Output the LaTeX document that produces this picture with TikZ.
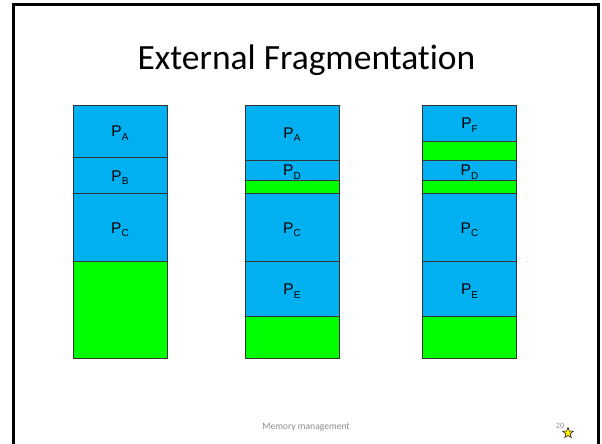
\documentclass[tikz,border=0pt]{standalone}
\usepackage{fontspec}
\setmainfont{Liberation Sans}
\newfontfamily\slidefont[Ligatures=NoCommon]{Carlito}
\usetikzlibrary{shapes.geometric}

\definecolor{procblue}{HTML}{00B0F0}
\definecolor{holegreen}{HTML}{00FF00}
\definecolor{footgray}{HTML}{8C8C8C}

% process label with a lowered small letter
\newcommand{\proc}[1]{P\raisebox{-3.5pt}{\fontsize{10}{11}\selectfont #1}}

\tikzset{
  seg/.style={draw=black!80, line width=0.6pt, fill=procblue, minimum width=94pt,
    inner sep=0pt, outer sep=0pt, anchor=north west, text height=11pt, text depth=0pt,
    font=\fontsize{15.5}{16}\selectfont},
  hole/.style={seg, fill=holegreen},
}

\begin{document}
\begin{tikzpicture}[x=1pt,y=-1pt]
  \useasboundingbox (0,0) rectangle (602,444);
  \draw[line width=3pt] (13.5,444) -- (13.5,4.5) -- (598,4.5) -- (598,444);

  \node[font=\slidefont\fontsize{35.5}{38}\selectfont, anchor=base] (title) at (306.5,69.5) {External Fragmentation};

  % first memory map
  \node[seg, minimum height=52.5pt] (pa1) at (73,105) {\proc{A}};
  \node[seg, minimum height=36.2pt] (pb1) at (pa1.south west) {\proc{B}};
  \node[seg, minimum height=68pt] (pc1) at (pb1.south west) {\proc{C}};
  \node[hole, minimum height=96.6pt] (h1) at (pc1.south west) {};

  % second memory map
  \node[seg, minimum height=55pt] (pa2) at (245,105) {\proc{A}};
  \node[seg, minimum height=20.3pt] (pd2) at (pa2.south west) {\proc{D}};
  \node[hole, minimum height=13.4pt] (h2a) at (pd2.south west) {};
  \node[seg, minimum height=68pt] (pc2) at (h2a.south west) {\proc{C}};
  \node[seg, minimum height=55pt] (pe2) at (pc2.south west) {\proc{E}};
  \node[hole, minimum height=41.6pt] (h2b) at (pe2.south west) {};

  % third memory map
  \node[seg, minimum height=36.7pt] (pf3) at (422.5,105) {\proc{F}};
  \node[hole, minimum height=18.3pt] (h3a) at (pf3.south west) {};
  \node[seg, minimum height=20.3pt] (pd3) at (h3a.south west) {\proc{D}};
  \node[hole, minimum height=13.4pt] (h3b) at (pd3.south west) {};
  \node[seg, minimum height=68pt] (pc3) at (h3b.south west) {\proc{C}};
  \node[seg, minimum height=55pt] (pe3) at (pc3.south west) {\proc{E}};
  \node[hole, minimum height=41.6pt] (h3c) at (pe3.south west) {};

  % footer
  \node[font=\slidefont\fontsize{9.6}{11}\selectfont, text=footgray, anchor=base] (foot) at (306,429) {Memory management};
  \node[font=\slidefont\fontsize{8}{9}\selectfont, text=footgray, anchor=base] (pgnum) at (560,428) {20};
  \node[star, star points=5, star point ratio=2.3, draw=black, fill=yellow, line width=0.5pt,
    minimum size=11pt, inner sep=0pt] (pgstar) at (568,433) {};
\end{tikzpicture}
\end{document}
